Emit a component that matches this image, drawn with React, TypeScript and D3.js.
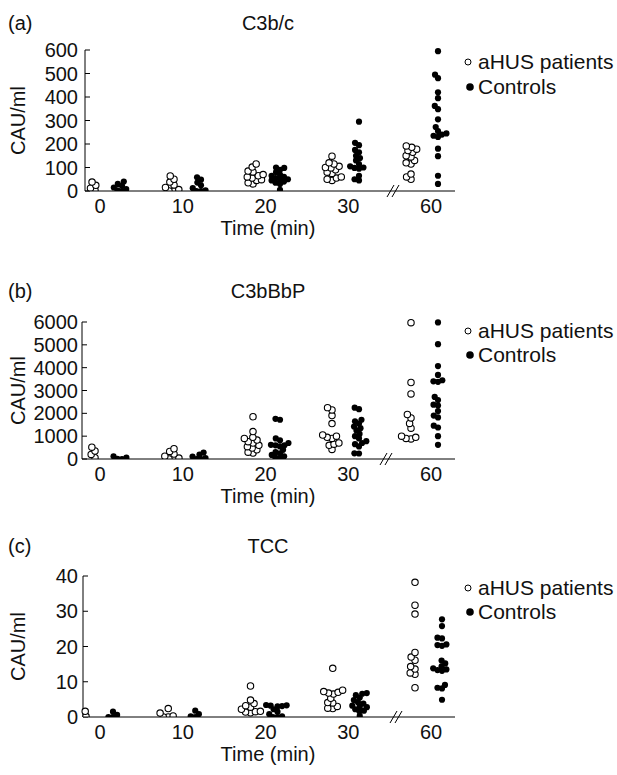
import React from "react";
import * as d3 from "d3";

const timeLabels = ["0", "10", "20", "30", "60"];

const c3bcTicks = [0, 100, 200, 300, 400, 500, 600];
const c3bbbpTicks = [0, 1000, 2000, 3000, 4000, 5000, 6000];
const tccTicks = [0, 10, 20, 30, 40];

const c3bcPatients = [
  [38, 24, 12, 3],
  [64, 50, 38, 26, 15, 6, 0, 0],
  [115, 102, 85, 81, 70, 65, 60, 55, 48, 45, 35, 30],
  [148, 120, 115, 105, 100, 98, 90, 80, 75, 60, 55, 50, 45],
  [192, 186, 178, 172, 165, 150, 145, 130, 120, 115, 72, 60, 50],
];
const c3bcControls = [
  [40, 30, 22, 15, 8, 3, 0],
  [58, 48, 36, 24, 12, 3, 0, 0],
  [100, 98, 90, 80, 70, 65, 60, 55, 50, 50, 45, 40, 35, 30, 5],
  [295, 205, 195, 175, 165, 150, 140, 130, 115, 105, 100, 98, 95, 65, 50, 45],
  [595, 495, 480, 420, 395, 362, 348, 305, 272, 255, 245, 240, 235, 230, 180, 148, 65, 30],
];

const c3bbbpPatients = [
  [520, 350, 200, 60],
  [450, 330, 220, 120, 40, 0, 0],
  [1850, 1200, 950, 900, 830, 760, 700, 600, 540, 480, 400, 300, 260],
  [2250, 2150, 1900, 1550, 1050, 1000, 950, 900, 700, 650, 600, 420],
  [5970, 3350, 2850, 1950, 1800, 1560, 1350, 1000, 950, 900, 880],
];
const c3bbbpControls = [
  [120, 60, 10, 0],
  [280, 190, 110, 40, 0, 0],
  [1760, 1720, 900, 820, 700, 620, 600, 600, 550, 400, 300, 250, 180, 120, 60, 30],
  [2250, 2180, 1720, 1650, 1550, 1420, 1350, 1250, 1100, 1000, 900, 780, 700, 650, 550, 250, 240],
  [5980, 5030, 4070, 3680, 3450, 3400, 3380, 2720, 2580, 2380, 2340, 2100, 1900, 1820, 1460, 1380, 1000, 620],
];

const tccPatients = [
  [1.6, 0.2],
  [2.4, 1.1, 0.3, 0, 0],
  [8.8, 4.8, 3.8, 3.2, 2.8, 2.2, 1.6, 1.5, 1.4, 1.2],
  [13.8, 7.6, 7.2, 7.0, 6.8, 6.5, 5.3, 4.1, 4.0, 3.0, 2.5, 2.4],
  [38.2, 31.7, 29.2, 18.3, 17.0, 16.1, 14.3, 13.6, 12.5, 12.1, 8.3],
];
const tccControls = [
  [1.5, 0.6, 0, 0],
  [1.8, 0.8, 0.2, 0],
  [3.4, 3.3, 3.2, 3.1, 3.0, 2.2, 1.5, 0.8, 0.2, 0, 0],
  [6.8, 6.6, 6.2, 5.5, 4.8, 4.2, 3.8, 3.2, 3.0, 2.8, 2.2, 1.8, 1.6, 0.3],
  [27.7, 25.8, 22.5, 22.3, 20.6, 20.4, 20.2, 16.0, 15.2, 14.4, 13.8, 13.5, 13.3, 13.1, 9.1, 8.3, 8.1, 4.9],
];

const W = 617;
const H = 775;
const FONT = "'Liberation Sans', Arial, Helvetica, sans-serif";
const FS = 20;

const panels = [
  { id: "a", letter: "(a)", title: "C3b/c", patients: c3bcPatients, controls: c3bcControls, ticks: c3bcTicks,
    top: 50, bottom: 191, axisX: 85, xRange: [108, 424], breakX: 393, titleY: 30, legendY: [62, 87] },
  { id: "b", letter: "(b)", title: "C3bBbP", patients: c3bbbpPatients, controls: c3bbbpControls, ticks: c3bbbpTicks,
    top: 322, bottom: 459, axisX: 82, xRange: [108, 424], breakX: 386, titleY: 298, legendY: [331, 355] },
  { id: "c", letter: "(c)", title: "TCC", patients: tccPatients, controls: tccControls, ticks: tccTicks,
    top: 576, bottom: 717, axisX: 83, xRange: [99, 428], breakX: 396, titleY: 553, legendY: [588, 612] },
];

function swarm(values: number[], y: (v: number) => number, D: number) {
  const pts = values.map((v) => ({ v, y: y(v), dx: 0 })).sort((a, b) => b.y - a.y);
  const placed: { v: number; y: number; dx: number }[] = [];
  for (const p of pts) {
    const cands = [0];
    for (const q of placed) {
      const dy = p.y - q.y;
      if (Math.abs(dy) < D) {
        const dx = Math.sqrt(D * D - dy * dy);
        cands.push(q.dx + dx, q.dx - dx);
      }
    }
    cands.sort((a, b) => Math.abs(a) - Math.abs(b) || a - b);
    let chosen = cands[cands.length - 1];
    for (const c of cands) {
      const ok = placed.every((q) => (c - q.dx) ** 2 + (p.y - q.y) ** 2 >= D * D - 1e-6);
      if (ok) { chosen = c; break; }
    }
    p.dx = chosen;
    placed.push(p);
  }
  return placed;
}

function Panel({ cfg }: { cfg: any }) {
  const maxV = cfg.ticks[cfg.ticks.length - 1];
  const y = d3.scaleLinear().domain([0, maxV]).range([cfg.bottom, cfg.top]);
  const xg = d3.scalePoint<string>().domain(timeLabels).range(cfg.xRange);
  const xl = d3.scalePoint<string>().domain(timeLabels).range([100, 431]);
  const xEnd = 455;
  const clipId = "clip-" + cfg.id;
  const midY = (cfg.top + cfg.bottom) / 2;
  return (
    <g>
      <defs>
        <clipPath id={clipId}>
          <rect x={0} y={0} width={W} height={cfg.bottom} />
        </clipPath>
      </defs>
      <text x={8} y={cfg.titleY} fontSize={FS}>{cfg.letter}</text>
      <text x={268} y={cfg.titleY} fontSize={FS} textAnchor="middle">{cfg.title}</text>
      <text transform={`translate(18,${midY}) rotate(-90)`} fontSize={FS} textAnchor="middle" dy="0.35em">CAU/ml</text>
      <line x1={cfg.axisX} x2={cfg.axisX} y1={y(maxV)} y2={cfg.bottom} stroke="#000" strokeWidth={1} />
      {cfg.ticks.map((t: number) => (
        <g key={t}>
          <line x1={cfg.axisX} x2={cfg.axisX + 5} y1={y(t)} y2={y(t)} stroke="#000" strokeWidth={1} />
          <text x={78} y={y(t)} dy="0.35em" fontSize={FS} textAnchor="end">{t}</text>
        </g>
      ))}
      <g clipPath={`url(#${clipId})`}>
        {timeLabels.map((tl, i) => {
          const cx = xg(tl) as number;
          const pp = swarm(cfg.patients[i], y, 5);
          const cc = swarm(cfg.controls[i], y, 4.6);
          return (
            <g key={tl}>
              {pp.map((p, j) => (
                <circle key={"p" + j} cx={cx - 13 + p.dx} cy={p.y} r={3.2} fill="#fff" stroke="#000" strokeWidth={1.1} />
              ))}
              {cc.map((p, j) => (
                <circle key={"c" + j} cx={cx + 14 + p.dx} cy={p.y} r={3.1} fill="#000" />
              ))}
            </g>
          );
        })}
      </g>
      <line x1={cfg.axisX} x2={xEnd} y1={cfg.bottom} y2={cfg.bottom} stroke="#000" strokeWidth={1} />
      {[-2.5, 2.5].map((k) => (
        <line key={k} x1={cfg.breakX + k - 3.5} y1={cfg.bottom + 6} x2={cfg.breakX + k + 3.5} y2={cfg.bottom - 6} stroke="#000" strokeWidth={1} />
      ))}
      {timeLabels.map((tl) => (
        <text key={tl} x={xl(tl) as number} y={cfg.bottom + 22} fontSize={FS} textAnchor="middle">{tl}</text>
      ))}
      <text x={268} y={cfg.bottom + 44} fontSize={FS} textAnchor="middle">Time (min)</text>
      <circle cx={468} cy={cfg.legendY[0]} r={3} fill="#fff" stroke="#000" strokeWidth={1} />
      <text x={478} y={cfg.legendY[0]} dy="0.35em" fontSize={21}>aHUS patients</text>
      <circle cx={470} cy={cfg.legendY[1]} r={3.8} fill="#000" />
      <text x={478} y={cfg.legendY[1]} dy="0.35em" fontSize={21}>Controls</text>
    </g>
  );
}

export default function App() {
  return (
    <svg width={W} height={H} viewBox={`0 0 ${W} ${H}`}
      style={{ position: "absolute", left: 0, top: 0, background: "#fff" }}
      fontFamily={FONT} fill="#111">
      <rect x={0} y={0} width={W} height={H} fill="#fff" />
      {panels.map((p) => <Panel key={p.id} cfg={p} />)}
    </svg>
  );
}
